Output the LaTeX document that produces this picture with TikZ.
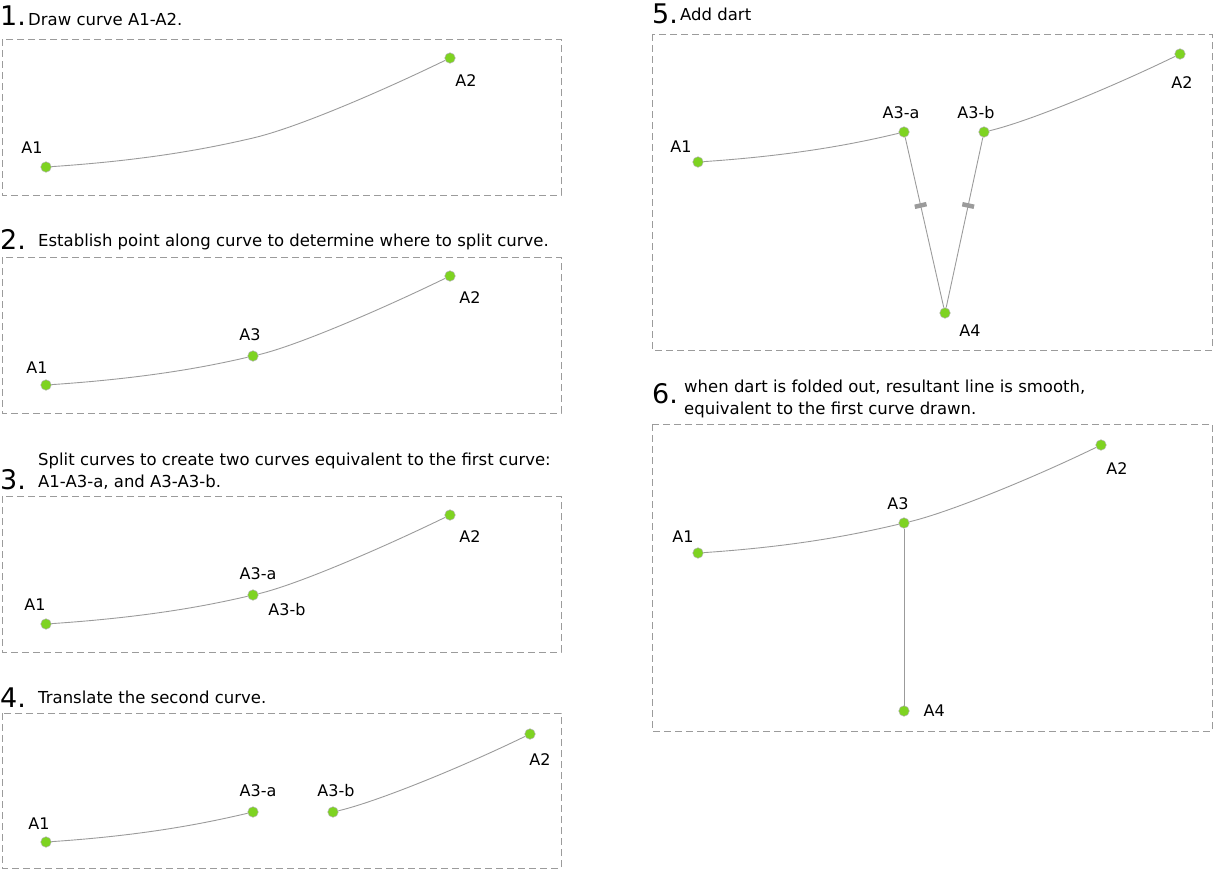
\documentclass[tikz,border=0pt]{standalone}
\usepackage{fontspec}
\setmainfont{DejaVu Sans}
\definecolor{ptgreen}{RGB}{126,211,33}
\definecolor{lngray}{RGB}{155,155,155}
\tikzset{
  frame/.style={draw=lngray, dash pattern=on 7pt off 4pt, line width=0.8pt},
  pt/.style={circle, fill=ptgreen, draw=black!30, line width=0.5pt,
    inner sep=0pt, minimum size=10.5pt},
  crv/.style={draw=lngray, line width=0.9pt},
  lbl/.style={font=\fontsize{16}{16}\selectfont, inner sep=1pt},
  stepnum/.style={anchor=base west, inner sep=0pt, font=\fontsize{27}{27}\selectfont},
  steptext/.style={anchor=base west, inner sep=0pt, align=left,
    font=\fontsize{16.5}{22}\selectfont},
  tickmark/.style={fill=lngray, inner sep=0pt, minimum width=4.5pt, minimum height=12pt},
  every label/.style={lbl},
  label distance=9pt
}
\begin{document}
\begin{tikzpicture}[x=1pt,y=-1pt]
  \useasboundingbox (0,0) rectangle (1213,871);

  % 1) Draw the curve
  \node[stepnum] (n1) at (0,25) {1.};
  \node[steptext] (t1) at (28,25) {Draw curve A1-A2.};
  \draw[frame] (2,39) rectangle (561,195);
  \node[pt, label={[xshift=-14pt,yshift=-2pt]above:A1}] (p1a1) at (46,167) {};
  \node[pt, label={[xshift=16pt,yshift=-1pt]below:A2}] (p1a2) at (450,58) {};
  \coordinate (p1a3) at (253,138);
  \draw[crv] (p1a1) .. controls (150,160) and (210,148) .. (p1a3)
                    .. controls (296,128) and (380,92) .. (p1a2);

  % 2) Point along the curve
  \begin{scope}[shift={(0,218)}]
    \node[stepnum] (n2) at (0,31) {2.};
    \node[steptext] (t2) at (38,28) {Establish point along curve to determine where to split curve.};
    \draw[frame] (2,39) rectangle (561,195);
    \node[pt, label={[xshift=-9pt,yshift=-4pt]above:A1}] (p2a1) at (46,167) {};
    \node[pt, label={[xshift=-3pt]above:A3}] (p2a3) at (253,138) {};
    \node[pt, label={[xshift=20pt]below:A2}] (p2a2) at (450,58) {};
    \draw[crv] (p2a1) .. controls (150,160) and (210,148) .. (p2a3);
    \draw[crv] (p2a3) .. controls (296,128) and (380,92) .. (p2a2);
  \end{scope}

  % 3) Split the curve in two
  \begin{scope}[shift={(0,457)}]
    \node[stepnum] (n3) at (0,32) {3.};
    \node[steptext] (t3) at (38,30) {Split curves to create two curves equivalent to the first curve:\\A1-A3-a, and A3-A3-b.};
    \draw[frame] (2,39) rectangle (561,195);
    \node[pt, label={[xshift=-11pt,yshift=-2pt]above:A1}] (p3a1) at (46,167) {};
    \node[pt, label={[xshift=5pt]above:A3-a},
              label={[xshift=34pt,yshift=7pt]below:A3-b}] (p3a3) at (253,138) {};
    \node[pt, label={[xshift=20pt]below:A2}] (p3a2) at (450,58) {};
    \draw[crv] (p3a1) .. controls (150,160) and (210,148) .. (p3a3);
    \draw[crv] (p3a3) .. controls (296,128) and (380,92) .. (p3a2);
  \end{scope}

  % 4) Move the second half away
  \begin{scope}[shift={(0,675)}]
    \node[stepnum] (n4) at (0,32) {4.};
    \node[steptext] (t4) at (38,28) {Translate the second curve.};
    \draw[frame] (2,38) rectangle (561,193);
    \node[pt, label={[xshift=-7pt,yshift=-3pt]above:A1}] (p4a1) at (46,167) {};
    \node[pt, label={[xshift=5pt]above:A3-a}] (p4a3a) at (253,137) {};
    \node[pt, label={[xshift=3pt]above:A3-b}] (p4a3b) at (333,137) {};
    \node[pt, label={[xshift=10pt,yshift=-4pt]below:A2}] (p4a2) at (530,59) {};
    \draw[crv] (p4a1) .. controls (150,160) and (210,147) .. (p4a3a);
    \draw[crv] (p4a3b) .. controls (376,127) and (460,93) .. (p4a2);
  \end{scope}

  % 5) Dart between the two halves
  \node[stepnum] (n5) at (652,23) {5.};
  \node[steptext] (t5) at (680,20) {Add dart};
  \draw[frame] (652,34) rectangle (1212,350);
  \node[pt, label={[xshift=-17pt,yshift=-6pt]above:A1}] (p5a1) at (698,162) {};
  \node[pt, label={[xshift=-3pt,yshift=-2pt]above:A3-a}] (p5a3a) at (904,132) {};
  \node[pt, label={[xshift=-8pt,yshift=-2pt]above:A3-b}] (p5a3b) at (984,132) {};
  \node[pt, label={[xshift=2pt,yshift=-7pt]below:A2}] (p5a2) at (1180,54) {};
  \node[pt, label={[xshift=25pt,yshift=4pt]below:A4}] (p5a4) at (945,313) {};
  \draw[crv] (p5a1) .. controls (802,155) and (862,142) .. (p5a3a);
  \draw[crv] (p5a3b) .. controls (1027,122) and (1110,88) .. (p5a2);
  \draw[crv] (p5a3a) -- node[tickmark, pos=0.4, sloped] (k1) {} (p5a4);
  \draw[crv] (p5a3b) -- node[tickmark, pos=0.4, sloped] (k2) {} (p5a4);

  % 6) Dart folded out
  \begin{scope}[shift={(652,386)}]
    \node[stepnum] (n6) at (0,17) {6.};
    \node[steptext] (t6) at (32,28) {when dart is folded out, resultant line is smooth,\\equivalent to the first curve drawn.};
    \draw[frame] (0,38) rectangle (560,345);
    \node[pt, label={[xshift=-15pt,yshift=-5pt]above:A1}] (p6a1) at (46,167) {};
    \node[pt, label={[xshift=-6pt,yshift=-2pt]above:A3}] (p6a3) at (252,137) {};
    \node[pt, label={[xshift=16pt,yshift=-2pt]below:A2}] (p6a2) at (449,59) {};
    \node[pt, label={[xshift=4pt]right:A4}] (p6a4) at (252,325) {};
    \draw[crv] (p6a1) .. controls (150,160) and (209,147) .. (p6a3);
    \draw[crv] (p6a3) .. controls (295,127) and (379,93) .. (p6a2);
    \draw[crv] (p6a3) -- (p6a4);
  \end{scope}
\end{tikzpicture}
\end{document}
